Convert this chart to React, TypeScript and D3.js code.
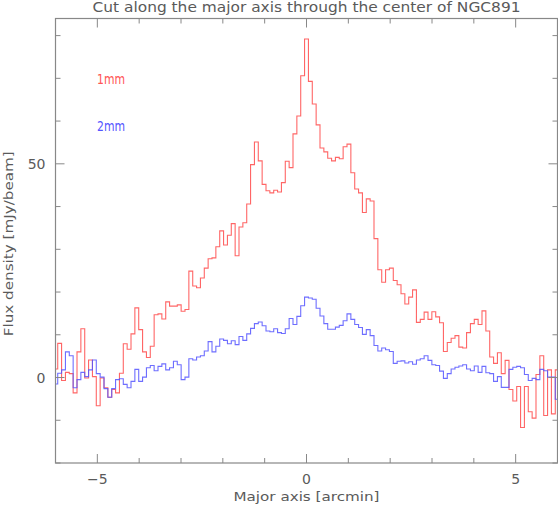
import React from 'react';
import * as d3 from 'd3';

// bin width in arcmin; bins centered at (i + first) * binWidth
const binWidth = 0.0922;
const firstBin = -65;

// 1mm flux per bin, mJy/beam
const red1mm = [
  2.0, 8.0, -0.7, 1.2, 0.9, -3.6, 6.0, 11.4, -0.1, 4.1, 0.2, -6.6, -0.1, -2.4, -4.6, -2.8, -3.6,
  1.0, 7.9, 6.6, 10.2, 16.3, 11.2, 6.0, 4.7, 7.3, 14.7, 14.9, 13.7, 17.7, 16.7, 16.7, 17.0,
  15.5, 15.9, 24.9, 21.4, 21.0, 23.3, 25.6, 27.8, 28.0, 30.6, 34.3, 31.0, 33.3, 36.0, 28.5,
  35.2, 36.2, 40.6, 49.8, 55.1, 50.7, 45.2, 43.7, 43.2, 43.8, 43.4, 45.6, 50.6, 49.1, 57.0,
  61.2, 70.6, 79.2, 69.3, 64.0, 59.1, 53.7, 52.8, 51.3, 50.7, 51.5, 51.2, 54.0, 54.6, 47.9,
  44.1, 43.2, 38.6, 41.8, 41.3, 32.5, 25.2, 22.3, 25.2, 25.6, 22.7, 21.7, 19.6, 17.2, 18.8,
  20.5, 12.9, 13.6, 15.3, 13.6, 15.4, 14.2, 12.8, 6.1, 8.2, 9.2, 9.8, 7.1, 6.9, 10.5, 12.6,
  13.6, 12.4, 15.6, 10.9, 4.8, 3.3, 5.8, 0.9, 4.0, -2.8, -5.5, -2.1, -11.7, -2.1, -8.0, -9.5,
  0.7, 5.1, -8.9, 1.8, -8.5, 1.8,
];

// 2mm flux per bin
const blue2mm = [
  -1.5, 1.0, 1.8, 6.0, 5.1, -2.4, -0.5, 1.2, 0.2, 1.8, 4.1, 0.9, 0.1, -2.6, -4.6, -2.6, -0.5,
  -0.3, -1.6, -2.4, -0.9, 1.9, -0.9, 0.1, 2.3, 2.8, 1.6, 2.6, 3.2, 1.8, 2.3, 3.8, 3.0,
  -0.5, 0.1, 4.4, 4.1, 4.8, 5.1, 6.2, 8.4, 6.0, 7.3, 9.0, 8.7, 7.9, 8.6, 7.7,
  9.6, 8.7, 10.2, 11.5, 12.6, 13.0, 12.1, 10.9, 10.7, 11.4, 10.5, 10.3, 11.4, 13.8, 12.4,
  14.3, 16.8, 18.8, 18.6, 18.3, 16.2, 14.4, 12.6, 11.3, 11.3, 11.8, 12.2, 13.3, 14.9, 13.6,
  12.4, 11.7, 10.1, 11.2, 9.8, 7.5, 6.2, 6.9, 6.5, 6.1, 3.3, 3.8, 3.9, 3.4, 3.7,
  3.1, 4.1, 4.4, 5.1, 4.0, 3.0, 2.8, 1.5, -0.2, 0.9, 2.0, 2.4, 2.7, 3.0, 2.0, 1.6,
  2.7, 1.2, 2.6, 1.1, 0.9, -0.9, 0.2, -2.3, -2.3, 1.9, 2.4, 2.6, 2.3, 0.7, -0.7, -0.2,
  -0.5, 1.9, 1.6, 0.1, 0.1, -5.1,
];

const xTicksMinor = d3.range(-6, 7, 1);
const xTicksMajor = [-5, 0, 5];
const yTicksMinor = d3.range(-20, 81, 10);
const yTicksMajor = [0, 50];

const W = 558;
const H = 505;
const left = 55.5, right = 557.5, top = 18.5, bottom = 463;
const font = 'DejaVu Sans, sans-serif';
const textColor = '#5a5a5a';
const axisColor = '#888';

const x = d3.scaleLinear().domain([-6, 6]).range([left, right]);
const y = d3.scaleLinear().domain([-20, 84]).range([bottom, top]);

function stepPoints(vals: number[]): [number, number][] {
  const pts: [number, number][] = vals.map((v, i) => [(i + firstBin) * binWidth - binWidth / 2, v]);
  const last = pts[pts.length - 1];
  pts.push([last[0] + binWidth, last[1]]);
  return pts;
}

const line = d3.line<[number, number]>()
  .x(d => x(d[0]))
  .y(d => y(d[1]))
  .curve(d3.curveStepAfter);

export default function App() {
  const cx = (left + right) / 2;
  return (
    <svg width={W} height={H} style={{ position: 'absolute', left: 0, top: 0, background: '#fff' }}>
      <defs>
        <clipPath id="plot">
          <rect x={left} y={top} width={right - left} height={bottom - top} />
        </clipPath>
      </defs>

      <g clipPath="url(#plot)" fill="none" strokeWidth={1.1}>
        <path d={line(stepPoints(red1mm)) || ''} stroke="#ff5555" opacity={0.9} />
        <path d={line(stepPoints(blue2mm)) || ''} stroke="#5555ff" opacity={0.85} />
      </g>

      {/* frame */}
      <rect x={left} y={top} width={right - left} height={bottom - top} fill="none" stroke={axisColor} strokeWidth={1.2} />

      {/* x ticks, bottom and top */}
      {xTicksMinor.map(t => {
        const len = xTicksMajor.includes(t) ? 9 : 5;
        return (
          <g key={'xt' + t} stroke={axisColor} strokeWidth={1}>
            <line x1={x(t)} x2={x(t)} y1={bottom} y2={bottom - len} />
            <line x1={x(t)} x2={x(t)} y1={top} y2={top + len} />
          </g>
        );
      })}
      {/* y ticks, left and right */}
      {yTicksMinor.map(t => {
        const len = yTicksMajor.includes(t) ? 9 : 5;
        return (
          <g key={'yt' + t} stroke={axisColor} strokeWidth={1}>
            <line x1={left} x2={left + len} y1={y(t)} y2={y(t)} />
            <line x1={right} x2={right - len} y1={y(t)} y2={y(t)} />
          </g>
        );
      })}

      <g fontFamily={font} fill={textColor} fontSize={14}>
        {xTicksMajor.map(t => (
          <text key={'xl' + t} x={x(t)} y={484} textAnchor="middle">
            {t < 0 ? '\u2212' + Math.abs(t) : t}
          </text>
        ))}
        {yTicksMajor.map(t => (
          <text key={'yl' + t} x={left - 10} y={y(t) + 5} textAnchor="end">{t}</text>
        ))}
        <text x={cx} y={501} textAnchor="middle" fontSize={13}
          textLength={146} lengthAdjust="spacingAndGlyphs">Major axis [arcmin]</text>
        <text
          transform={`translate(12.5, ${(top + bottom) / 2 + 3}) rotate(-90)`}
          textAnchor="middle"
          fontSize={13}
          textLength={185}
          lengthAdjust="spacingAndGlyphs"
        >
          Flux density [mJy/beam]
        </text>
        <text x={cx} y={12} textAnchor="middle" fontSize={13.5}
          textLength={428} lengthAdjust="spacingAndGlyphs">
          Cut along the major axis through the center of NGC891
        </text>
      </g>

      <text x={97} y={84} fontFamily={font} fontSize={13.5} fill="#ff5555"
        textLength={28} lengthAdjust="spacingAndGlyphs">1mm</text>
      <text x={97} y={131} fontFamily={font} fontSize={13.5} fill="#5555ff"
        textLength={28} lengthAdjust="spacingAndGlyphs">2mm</text>
    </svg>
  );
}
